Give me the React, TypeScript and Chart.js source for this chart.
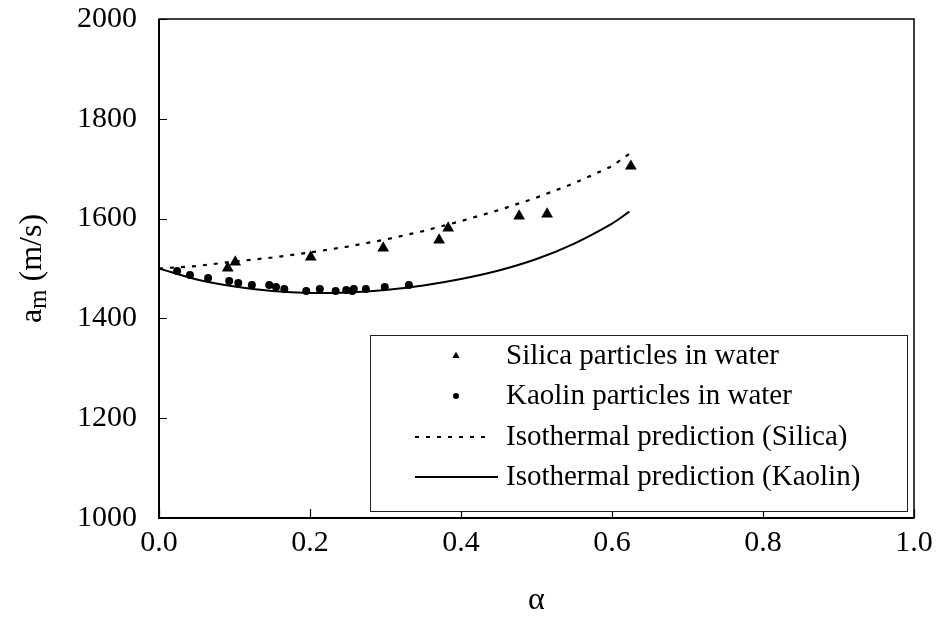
import React, { useEffect, useRef } from "react";
import { Chart, registerables } from "chart.js";

Chart.register(...registerables);

const FONT = '"Liberation Serif", "Times New Roman", Times, serif';

// Measured data: Silica particles in water
const silicaAlpha = [0.091, 0.101, 0.201, 0.297, 0.371, 0.383, 0.477, 0.514, 0.625];
const silicaSpeed = [1501, 1513, 1523, 1541, 1557, 1581, 1605, 1609, 1705];

// Measured data: Kaolin particles in water
const kaolinAlpha = [0.024, 0.041, 0.065, 0.093, 0.105, 0.123, 0.146, 0.155, 0.166, 0.195, 0.213, 0.234, 0.248, 0.256, 0.258, 0.274, 0.299, 0.331];
const kaolinSpeed = [1495, 1487, 1481, 1475, 1471, 1467, 1467, 1463, 1459, 1455, 1459, 1455, 1457, 1455, 1459, 1459, 1463, 1467];

// Isothermal prediction (Silica)
const silicaModelAlpha = [0, 0.05, 0.1, 0.15, 0.2, 0.25, 0.3, 0.35, 0.4, 0.45, 0.5, 0.55, 0.6, 0.623];
const silicaModelSpeed = [1500, 1505, 1514, 1522, 1532, 1544, 1558, 1575, 1595, 1617, 1642, 1671, 1705, 1730];

// Isothermal prediction (Kaolin)
const kaolinModelAlpha = [0, 0.05, 0.1, 0.15, 0.2, 0.25, 0.3, 0.35, 0.4, 0.45, 0.5, 0.55, 0.6, 0.623];
const kaolinModelSpeed = [1500, 1478, 1464, 1455, 1451, 1452, 1457, 1466, 1479, 1496, 1519, 1550, 1590, 1614];

const xTickValues = [0, 0.2, 0.4, 0.6, 0.8, 1.0];
const yTickValues = [1000, 1200, 1400, 1600, 1800, 2000];

const seriesNames = [
  "Silica particles in water",
  "Kaolin particles in water",
  "Isothermal prediction (Silica)",
  "Isothermal prediction (Kaolin)",
];

const xTitle = "α";
const yTitleMain = "a";
const yTitleSub = "m";
const yTitleRest = " (m/s)";

const toPoints = (xs: number[], ys: number[]) => xs.map((x, i) => ({ x, y: ys[i] }));

const DASH = [4, 7];

const decorPlugin = {
  id: "decor",
  afterDraw(chart: any) {
    const { ctx, chartArea } = chart;
    const { left, right, top, bottom } = chartArea;
    const xs = chart.scales.x;
    const ys = chart.scales.y;
    ctx.save();
    ctx.strokeStyle = "#000";
    // frame
    ctx.lineWidth = 1.5;
    ctx.strokeRect(left, top, right - left, bottom - top);
    ctx.lineWidth = 2;
    ctx.beginPath();
    ctx.moveTo(left, top);
    ctx.lineTo(left, bottom);
    ctx.lineTo(right, bottom);
    ctx.stroke();
    // inward tick marks
    ctx.lineWidth = 1.2;
    ctx.beginPath();
    for (const v of yTickValues) {
      const py = Math.round(ys.getPixelForValue(v)) + 0.5;
      ctx.moveTo(left, py);
      ctx.lineTo(left + 8, py);
    }
    for (const v of xTickValues) {
      const px = Math.round(xs.getPixelForValue(v)) + 0.5;
      ctx.moveTo(px, bottom);
      ctx.lineTo(px, bottom - 9);
    }
    ctx.stroke();

    // legend
    const lx = left + 211;
    const ly = top + 316;
    const lw = 537;
    const lh = 176;
    ctx.fillStyle = "#fff";
    ctx.fillRect(lx, ly, lw, lh);
    ctx.lineWidth = 1;
    ctx.strokeStyle = "#222";
    ctx.strokeRect(lx + 0.5, ly + 0.5, lw, lh);
    const rowY = [ly + 21, ly + 61, ly + 102, ly + 142];
    const symX = lx + 86;
    const textX = lx + 136;
    ctx.fillStyle = "#000";
    ctx.strokeStyle = "#000";
    // triangle
    {
      const r = 4.2;
      const cy = rowY[0];
      ctx.beginPath();
      ctx.moveTo(symX, cy - r);
      ctx.lineTo(symX + r * 0.866, cy + r * 0.5);
      ctx.lineTo(symX - r * 0.866, cy + r * 0.5);
      ctx.closePath();
      ctx.fill();
    }
    // circle
    ctx.beginPath();
    ctx.arc(symX, rowY[1], 3, 0, Math.PI * 2);
    ctx.fill();
    // dashed line
    ctx.lineWidth = 2;
    ctx.setLineDash(DASH);
    ctx.beginPath();
    ctx.moveTo(lx + 45, rowY[2]);
    ctx.lineTo(lx + 122, rowY[2]);
    ctx.stroke();
    ctx.setLineDash([]);
    // solid line
    ctx.lineWidth = 2;
    ctx.beginPath();
    ctx.moveTo(lx + 45, rowY[3]);
    ctx.lineTo(lx + 128, rowY[3]);
    ctx.stroke();
    // texts
    ctx.font = `29px ${FONT}`;
    ctx.textAlign = "left";
    ctx.textBaseline = "middle";
    seriesNames.forEach((name, i) => ctx.fillText(name, textX, rowY[i]));

    // y axis title with subscript
    const fs = 32;
    const subFs = 25;
    ctx.font = `${fs}px ${FONT}`;
    const wA = ctx.measureText(yTitleMain).width;
    const wRest = ctx.measureText(yTitleRest).width;
    ctx.font = `${subFs}px ${FONT}`;
    const wSub = ctx.measureText(yTitleSub).width;
    const total = wA + wSub + wRest;
    const cy = (top + bottom) / 2;
    ctx.translate(41, cy);
    ctx.rotate(-Math.PI / 2);
    ctx.textBaseline = "alphabetic";
    ctx.textAlign = "left";
    let tx = -total / 2;
    ctx.font = `${fs}px ${FONT}`;
    ctx.fillText(yTitleMain, tx, 0);
    tx += wA;
    ctx.font = `${subFs}px ${FONT}`;
    ctx.fillText(yTitleSub, tx, 5);
    tx += wSub;
    ctx.font = `${fs}px ${FONT}`;
    ctx.fillText(yTitleRest, tx, 0);
    ctx.restore();
  },
};

export default function App() {
  const ref = useRef<HTMLCanvasElement | null>(null);
  useEffect(() => {
    if (!ref.current) return;
    const chart = new Chart(ref.current, {
      type: "scatter",
      data: {
        datasets: [
          {
            label: seriesNames[0],
            data: toPoints(silicaAlpha, silicaSpeed),
            showLine: false,
            pointStyle: "triangle",
            pointRadius: 6.8,
            pointBackgroundColor: "#000",
            pointBorderColor: "#000",
            pointBorderWidth: 0,
          },
          {
            label: seriesNames[1],
            data: toPoints(kaolinAlpha, kaolinSpeed),
            showLine: false,
            pointStyle: "circle",
            pointRadius: 4,
            pointBackgroundColor: "#000",
            pointBorderColor: "#000",
            pointBorderWidth: 0,
          },
          {
            label: seriesNames[2],
            data: toPoints(silicaModelAlpha, silicaModelSpeed),
            showLine: true,
            pointRadius: 0,
            borderColor: "#000",
            borderWidth: 2.2,
            borderDash: DASH,
            tension: 0,
          },
          {
            label: seriesNames[3],
            data: toPoints(kaolinModelAlpha, kaolinModelSpeed),
            showLine: true,
            pointRadius: 0,
            borderColor: "#000",
            borderWidth: 2,
            tension: 0.3,
          },
        ],
      },
      options: {
        responsive: false,
        animation: false,
        devicePixelRatio: 1,
        layout: { padding: { left: 0, top: 19, right: 25, bottom: 0 } },
        plugins: {
          legend: { display: false },
          tooltip: { enabled: false },
        },
        scales: {
          x: {
            type: "linear",
            min: 0,
            max: 1,
            afterBuildTicks: (s: any) => {
              s.ticks = xTickValues.map((v) => ({ value: v }));
            },
            afterFit: (s: any) => {
              s.height = 117;
              s.paddingLeft = 0;
              s.paddingRight = 0;
            },
            grid: { display: false, drawTicks: false },
            border: { display: false },
            ticks: {
              color: "#000",
              font: { family: FONT, size: 30 },
              padding: 7,
              maxRotation: 0,
              autoSkip: false,
              callback: (v: any) => Number(v).toFixed(1),
            },
            title: {
              display: true,
              text: xTitle,
              color: "#000",
              font: { family: FONT, size: 32 },
              padding: { top: 0, bottom: 15 },
            },
          },
          y: {
            type: "linear",
            min: 1000,
            max: 2000,
            afterBuildTicks: (s: any) => {
              s.ticks = yTickValues.map((v) => ({ value: v }));
            },
            afterFit: (s: any) => {
              s.width = 159;
              s.paddingTop = 0;
              s.paddingBottom = 0;
            },
            grid: { display: false, drawTicks: false },
            border: { display: false },
            ticks: {
              color: "#000",
              font: { family: FONT, size: 30 },
              padding: 22,
              autoSkip: false,
              callback: (v: any) => String(v),
            },
          },
        },
      },
      plugins: [decorPlugin],
    } as any);
    return () => chart.destroy();
  }, []);
  return (
    <div style={{ position: "absolute", left: 0, top: 0, width: 939, height: 635, background: "#fff" }}>
      <canvas ref={ref} width={939} height={635} style={{ display: "block" }} />
    </div>
  );
}
